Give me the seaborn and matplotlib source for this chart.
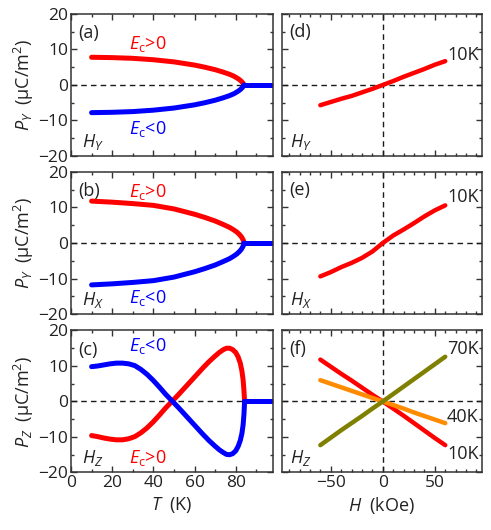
import numpy as np
import matplotlib
matplotlib.use("Agg")
import matplotlib.pyplot as plt
import seaborn as sns
from matplotlib.ticker import MultipleLocator

# --- data ---
# temperature sweeps (panels a-c)
t_ord = [10, 20, 30, 40, 50, 60, 65, 70, 74, 77, 79, 80.5, 81.8, 82.8, 83.4, 83.8, 84]
pa_pos = [7.8, 7.7, 7.5, 7.1, 6.5, 5.6, 5.0, 4.3, 3.6, 3.0, 2.5, 2.0, 1.5, 1.0, 0.6, 0.3, 0.0]
pb_pos = [11.8, 11.5, 11.1, 10.6, 9.6, 8.1, 7.2, 6.2, 5.2, 4.4, 3.7, 3.1, 2.4, 1.7, 1.1, 0.6, 0.0]

t_z = [10, 13, 16, 19, 22, 25, 28, 31, 34, 37, 40, 43, 46, 49, 52, 55, 58, 61, 64,
       67, 70, 72, 74, 75.5, 77, 78.5, 80, 81.2, 82.2, 83, 83.6, 84, 84.3]
pc_neg = [9.8, 10.0, 10.3, 10.6, 10.8, 10.8, 10.6, 10.1, 9.0, 7.6, 5.9, 4.0, 2.0, 0.2,
          -1.6, -3.5, -5.4, -7.3, -9.2, -11.0, -12.6, -13.6, -14.4, -14.9, -15.0, -14.7,
          -13.9, -12.6, -11.0, -9.0, -6.5, -3.5, 0.0]
pc_pos = [-9.6, -9.9, -10.3, -10.6, -10.8, -10.8, -10.5, -9.9, -8.8, -7.4, -5.7, -3.8,
          -1.8, 0.0, 1.8, 3.7, 5.6, 7.5, 9.4, 11.2, 12.8, 13.8, 14.6, 15.0, 15.0, 14.6,
          13.8, 12.5, 10.8, 8.6, 6.0, 3.0, 0.0]

t_flat = [84, 100]
p_flat = [0, 0]

# field sweeps (panels d-f)
h = [-60, -50, -40, -30, -20, -10, 0, 10, 20, 30, 40, 50, 60]
pd_10k = [-5.7, -4.8, -3.9, -3.1, -2.1, -1.1, 0.0, 1.1, 2.3, 3.4, 4.5, 5.7, 6.7]
pe_10k = [-9.4, -8.2, -6.8, -5.6, -4.2, -2.4, 0.0, 2.1, 3.8, 5.6, 7.5, 9.2, 10.6]
pf_10k = [11.8, 9.8, 7.8, 5.9, 3.9, 1.9, 0.0, -2.0, -4.0, -6.1, -8.2, -10.3, -12.3]
pf_40k = [6.0, 5.0, 4.0, 3.0, 2.0, 1.0, 0.0, -1.0, -2.0, -3.1, -4.1, -5.1, -6.1]
pf_70k = [-12.3, -10.2, -8.1, -6.1, -4.1, -2.0, 0.0, 2.1, 4.2, 6.3, 8.4, 10.5, 12.6]

RED, BLUE, ORANGE, OLIVE = "#ff0000", "#0000ff", "#ff8c00", "#808000"

sns.set_theme(style="ticks")
plt.rcParams["font.family"] = ["Open Sans", "DejaVu Sans"]
plt.rcParams["mathtext.fontset"] = "custom"
plt.rcParams["mathtext.rm"] = "Open Sans"
plt.rcParams["mathtext.it"] = "Open Sans:italic"
plt.rcParams["axes.edgecolor"] = "#333333"
plt.rcParams["axes.linewidth"] = 1.1

FS = 13
TFS = 12.5

fig = plt.figure(figsize=(4.91, 5.30), dpi=100)
lefts = [0.1446, 0.574]
widths = [0.411, 0.407]
bottoms = [0.7057, 0.4075, 0.1085]
height = 0.268

axes = [[fig.add_axes([lefts[c], bottoms[r], widths[c], height]) for c in range(2)]
        for r in range(3)]

LW = 3.6


def line(ax, x, y, color, lw=LW):
    sns.lineplot(x=x, y=y, color=color, lw=lw, ax=ax, sort=False,
                 estimator=None, solid_capstyle="round", solid_joinstyle="round")


def style(ax, left):
    ax.set_ylim(-20, 20)
    ax.yaxis.set_major_locator(MultipleLocator(10))
    ax.yaxis.set_minor_locator(MultipleLocator(5))
    if left:
        ax.set_xlim(0, 98)
        ax.xaxis.set_major_locator(MultipleLocator(20))
    else:
        ax.set_xlim(-97, 95)
        ax.xaxis.set_major_locator(MultipleLocator(50))
        ax.axvline(0, ls="--", color="k", lw=1, dashes=(4, 3), zorder=1)
    ax.xaxis.set_minor_locator(MultipleLocator(10))
    ax.axhline(0, ls="--", color="k", lw=1, dashes=(4, 3), zorder=1)
    ax.tick_params(which="both", direction="in", top=True, right=True,
                   labelsize=TFS, colors="#333333", labelcolor="#222222", pad=2)
    ax.tick_params(which="major", length=4.5, width=1)
    ax.tick_params(which="minor", length=2.5, width=1)
    ax.set_xlabel("")
    ax.set_ylabel("")


# left column
ax = axes[0][0]
line(ax, t_ord, pa_pos, RED)
line(ax, t_ord, [-v for v in pa_pos], BLUE)
line(ax, t_flat, p_flat, BLUE)
ax = axes[1][0]
line(ax, t_ord, pb_pos, RED)
line(ax, t_ord, [-v for v in pb_pos], BLUE)
line(ax, t_flat, p_flat, BLUE)
ax = axes[2][0]
line(ax, t_z, pc_pos, RED)
line(ax, t_z, pc_neg, BLUE)
line(ax, t_flat, p_flat, BLUE)

# right column
line(axes[0][1], h, pd_10k, RED, 3.2)
line(axes[1][1], h, pe_10k, RED, 3.2)
line(axes[2][1], h, pf_10k, RED, 3.2)
line(axes[2][1], h, pf_40k, ORANGE, 3.2)
line(axes[2][1], h, pf_70k, OLIVE, 3.2)

for r in range(3):
    style(axes[r][0], True)
    style(axes[r][1], False)
    axes[r][1].tick_params(labelleft=False)
    if r < 2:
        axes[r][0].tick_params(labelbottom=False)
        axes[r][1].tick_params(labelbottom=False)

ylabels = ["$P_Y$  (μC/m$^2$)", "$P_Y$  (μC/m$^2$)", "$P_Z$  (μC/m$^2$)"]
for r in range(3):
    axes[r][0].set_ylabel(ylabels[r], fontsize=FS, labelpad=2, color="#222222")
axes[2][0].set_xlabel("$T$  (K)", fontsize=FS, labelpad=3, color="#222222")
axes[2][1].set_xlabel("$H$  (kOe)", fontsize=FS, labelpad=3, color="#222222")

kw = dict(fontsize=FS, color="#222222")
# panel letters
for r, (a, b) in enumerate([("(a)", "(d)"), ("(b)", "(e)"), ("(c)", "(f)")]):
    axes[r][0].text(0.035, 0.865, a, transform=axes[r][0].transAxes, ha="left", va="center", **kw)
    axes[r][1].text(0.037, 0.87, b, transform=axes[r][1].transAxes, ha="left", va="center", **kw)

# field direction labels
for r, lab in enumerate(["$H_Y$", "$H_X$", "$H_Z$"]):
    axes[r][0].text(0.053, 0.1, lab, transform=axes[r][0].transAxes, ha="left", va="center", **kw)
    axes[r][1].text(0.04, 0.1, lab, transform=axes[r][1].transAxes, ha="left", va="center", **kw)

# E-field sign labels
pos_lab = "$E_\\mathrm{c}$>0"
neg_lab = "$E_\\mathrm{c}$<0"
axes[0][0].text(37.5, 11.6, pos_lab, ha="center", va="center", fontsize=FS, color=RED)
axes[0][0].text(37.5, -12.5, neg_lab, ha="center", va="center", fontsize=FS, color=BLUE)
axes[1][0].text(37.5, 14.3, pos_lab, ha="center", va="center", fontsize=FS, color=RED)
axes[1][0].text(37.5, -15.6, neg_lab, ha="center", va="center", fontsize=FS, color=BLUE)
axes[2][0].text(37.5, 15.5, neg_lab, ha="center", va="center", fontsize=FS, color=BLUE)
axes[2][0].text(37.5, -15.9, pos_lab, ha="center", va="center", fontsize=FS, color=RED)

# temperature labels
axes[0][1].text(0.985, 0.71, "10K", transform=axes[0][1].transAxes, ha="right", va="center", **kw)
axes[1][1].text(0.985, 0.824, "10K", transform=axes[1][1].transAxes, ha="right", va="center", **kw)
axes[2][1].text(0.985, 0.867, "70K", transform=axes[2][1].transAxes, ha="right", va="center", **kw)
axes[2][1].text(0.985, 0.389, "40K", transform=axes[2][1].transAxes, ha="right", va="center", **kw)
axes[2][1].text(0.985, 0.13, "10K", transform=axes[2][1].transAxes, ha="right", va="center", **kw)

fig.savefig("out.png", dpi=100)
